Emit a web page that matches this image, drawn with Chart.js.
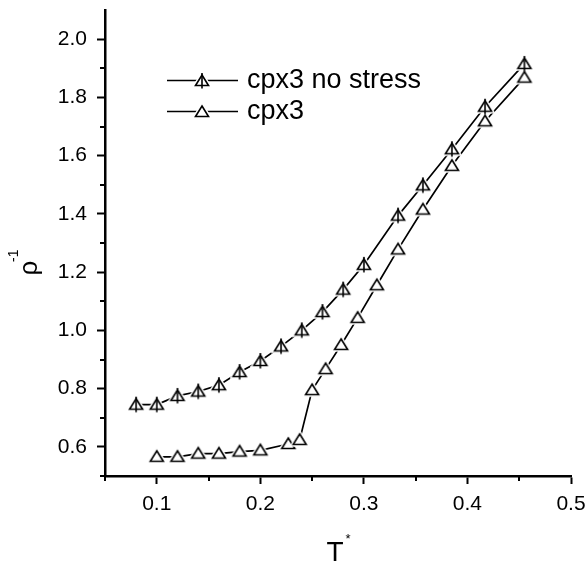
<!DOCTYPE html>
<html>
<head>
<meta charset="utf-8">
<script src="https://cdn.jsdelivr.net/npm/chart.js@4.4.1/dist/chart.umd.min.js"></script>
<style>
    body { margin: 0; background: #fff; }
</style>
</head>
<body>
<canvas id="rhoChart" width="587" height="563"></canvas>
<script>
// T* and rho^-1
const tNoStress = [0.08, 0.10, 0.12, 0.14, 0.16, 0.18, 0.20, 0.22, 0.24, 0.26, 0.28, 0.30, 0.333, 0.357, 0.385, 0.417, 0.455];
const rhoNoStress = [0.745, 0.745, 0.775, 0.79, 0.812, 0.857, 0.895, 0.945, 1.0, 1.063, 1.14, 1.225, 1.394, 1.498, 1.622, 1.768, 1.915];

const tCpx3 = [0.10, 0.12, 0.14, 0.16, 0.18, 0.20, 0.227, 0.238, 0.25, 0.263, 0.278, 0.294, 0.3125, 0.333, 0.357, 0.385, 0.417, 0.455];
const rhoCpx3 = [0.566, 0.566, 0.577, 0.577, 0.584, 0.588, 0.61, 0.624, 0.795, 0.867, 0.95, 1.043, 1.155, 1.278, 1.415, 1.565, 1.718, 1.868];

const seriesLabels = ['cpx3 no stress', 'cpx3'];

// Tick values
const xMajorTicks = [0.1, 0.2, 0.3, 0.4, 0.5];
const xMinorTicks = [0.05, 0.15, 0.25, 0.35, 0.45];
const yMajorTicks = [0.6, 0.8, 1.0, 1.2, 1.4, 1.6, 1.8, 2.0];
const yMinorTicks = [0.5, 0.7, 0.9, 1.1, 1.3, 1.5, 1.7, 1.9];

const FONT = 'Arial, "Liberation Sans", sans-serif';


// open triangle, optionally with a vertical bar through it
function triangleMarker(crossed) {
    const c = document.createElement('canvas');
    c.width = 20;
    c.height = 20;
    const g = c.getContext('2d');
    const cx = 10, top = 4, base = 14.5, half = 6.5;

    g.beginPath();
    g.moveTo(cx, top);
    g.lineTo(cx + half, base);
    g.lineTo(cx - half, base);
    g.closePath();
    // white halo so the line stops short of the marker
    g.strokeStyle = '#fff';
    g.lineWidth = 4.5;
    g.stroke();
    g.fillStyle = '#fff';
    g.fill();
    g.strokeStyle = '#000';
    g.lineWidth = 1.6;
    g.stroke();

    if (crossed) {
        g.beginPath();
        g.moveTo(cx, top - 2);
        g.lineTo(cx, base + 3);
        g.stroke();
    }
    return c;
}

const markerNoStress = triangleMarker(true);
const markerCpx3 = triangleMarker(false);


const decorations = {
    id: 'decorations',
    afterDraw(chart) {
        const ctx = chart.ctx;
        const x = chart.scales.x;
        const y = chart.scales.y;
        const area = chart.chartArea;

        ctx.save();
        ctx.strokeStyle = '#000';
        ctx.lineWidth = 2;

        // minor ticks
        xMinorTicks.forEach(v => {
            const px = Math.round(x.getPixelForValue(v));
            ctx.beginPath();
            ctx.moveTo(px, area.bottom);
            ctx.lineTo(px, area.bottom + 5);
            ctx.stroke();
        });
        yMinorTicks.forEach(v => {
            const py = Math.round(y.getPixelForValue(v));
            ctx.beginPath();
            ctx.moveTo(area.left, py);
            ctx.lineTo(area.left - 5, py);
            ctx.stroke();
        });

        // legend
        ctx.fillStyle = '#000';
        ctx.textBaseline = 'middle';
        ctx.textAlign = 'left';
        ctx.font = '27px ' + FONT;
        chart.data.datasets.forEach((ds, i) => {
            const ly = 80.5 + i * 31;
            ctx.lineWidth = 1.6;
            ctx.beginPath();
            ctx.moveTo(167, ly);
            ctx.lineTo(238, ly);
            ctx.stroke();
            const m = ds.pointStyle;
            ctx.drawImage(m, 202 - m.width / 2, Math.round(ly - m.height / 2));
            ctx.fillText(ds.label, 247, ly);
        });

        // x axis title: T*
        ctx.textBaseline = 'alphabetic';
        ctx.textAlign = 'center';
        ctx.font = '28px ' + FONT;
        ctx.fillText('T', 335, 561);
        ctx.font = '13px ' + FONT;
        ctx.fillText('*', 348, 543);

        // y axis title: rho^-1
        ctx.translate(36.5, 268);
        ctx.rotate(-Math.PI / 2);
        ctx.font = '26px ' + FONT;
        ctx.fillText('ρ', 0, 0);
        ctx.textAlign = 'left';
        ctx.font = '14px ' + FONT;
        ctx.fillText('-1', 6, -19);

        ctx.restore();
    }
};


const ctx = document.getElementById('rhoChart').getContext('2d');

const rhoChart = new Chart(ctx, {
    type: 'scatter',
    data: {
        datasets: [{
            label: seriesLabels[0],
            data: tNoStress.map((t, i) => ({ x: t, y: rhoNoStress[i] })),
            showLine: true,
            borderColor: '#000',
            borderWidth: 1.7,
            pointStyle: markerNoStress,
            tension: 0
        }, {
            label: seriesLabels[1],
            data: tCpx3.map((t, i) => ({ x: t, y: rhoCpx3[i] })),
            showLine: true,
            borderColor: '#000',
            borderWidth: 1.7,
            pointStyle: markerCpx3,
            tension: 0
        }]
    },
    options: {
        responsive: false,
        animation: false,
        layout: {
            padding: { top: 10, right: 16, left: 0, bottom: 0 }
        },
        plugins: {
            legend: { display: false },
            tooltip: { enabled: false }
        },
        scales: {
            x: {
                type: 'linear',
                min: 0.05,
                max: 0.5,
                afterBuildTicks: scale => { scale.ticks = xMajorTicks.map(v => ({ value: v })); },
                afterFit: scale => {
                    scale.height = 87;
                    scale.paddingLeft = 0;
                    scale.paddingRight = 0;
                },
                grid: {
                    drawOnChartArea: false,
                    drawTicks: true,
                    tickLength: 8,
                    tickWidth: 2,
                    tickColor: '#000'
                },
                border: { color: '#000', width: 2.5 },
                ticks: {
                    color: '#000',
                    font: { family: FONT, size: 21 },
                    padding: 8,
                    maxRotation: 0,
                    autoSkip: false,
                    callback: v => v.toFixed(1)
                }
            },
            y: {
                type: 'linear',
                min: 0.5,
                max: 2.1,
                afterBuildTicks: scale => { scale.ticks = yMajorTicks.map(v => ({ value: v })); },
                afterFit: scale => {
                    scale.width = 105;
                    // ticks never reach the ends, so no label room is needed there
                    scale.paddingTop = 0;
                    scale.paddingBottom = 0;
                },
                grid: {
                    drawOnChartArea: false,
                    drawTicks: true,
                    tickLength: 8,
                    tickWidth: 2,
                    tickColor: '#000'
                },
                border: { color: '#000', width: 2.5 },
                ticks: {
                    color: '#000',
                    font: { family: FONT, size: 21 },
                    padding: 10,
                    autoSkip: false,
                    callback: v => v.toFixed(1)
                }
            }
        }
    },
    plugins: [decorations]
});
</script>
</body>
</html>
